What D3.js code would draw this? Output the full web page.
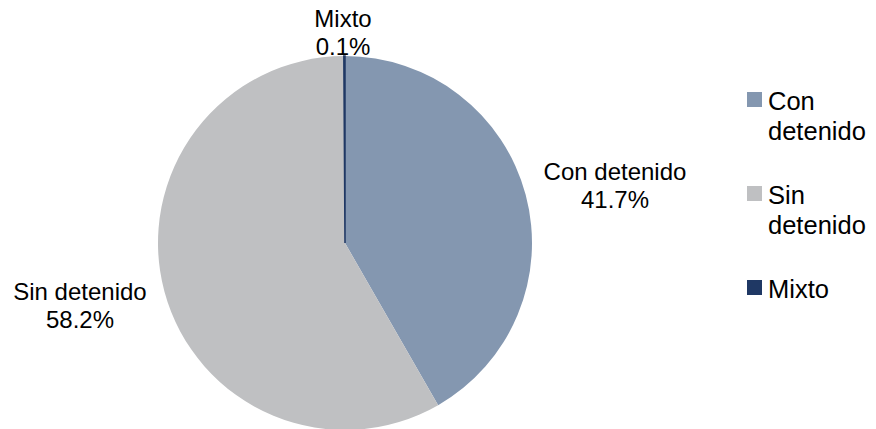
<!DOCTYPE html>
<html><head><meta charset="utf-8">
<script src="https://cdn.jsdelivr.net/npm/d3@7"></script>
<style>body{margin:0;background:#fff}svg{display:block}text{font-family:"Liberation Sans",Arial,sans-serif;fill:#000}</style>
</head><body>
<svg id="c" width="876" height="429"></svg>
<script>
const categories = ["Con detenido", "Sin detenido", "Mixto"];
const values = [41.7, 58.2, 0.1];
const legendLines = [["Con", "detenido"], ["Sin", "detenido"], ["Mixto"]];
const colors = ["#8497B0", "#BFC0C2", "#1F3864"];

const svg = d3.select("#c");
const cx = 345, cy = 243, r = 187;
const data = categories.map((c, i) => ({cat: c, v: values[i], i}));
const pie = d3.pie().sort(null).value(d => d.v);
const arcs = pie(data);
const arc = d3.arc().innerRadius(0).outerRadius(r);
const g = svg.append("g").attr("transform", `translate(${cx},${cy})`);
g.selectAll("path").data(arcs).join("path")
  .attr("d", arc).attr("fill", d => colors[d.data.i])
  .attr("stroke", d => d.data.i === 2 ? colors[2] : "none").attr("stroke-width", 1.5);

const labelPos = [[615, 180], [80, 300], [343, 27]];
const fs = 24;
arcs.forEach(a => {
  const [x, y] = labelPos[a.data.i];
  const t = svg.append("text").attr("text-anchor", "middle").attr("font-size", fs);
  t.append("tspan").attr("x", x).attr("y", y).text(a.data.cat);
  t.append("tspan").attr("x", x).attr("y", y + 28).text(d3.format(".1f")(a.data.v) + "%");
});

const legY = [92, 186, 280];
legendLines.forEach((lines, i) => {
  svg.append("rect").attr("x", 747).attr("y", legY[i]).attr("width", 15).attr("height", 15).attr("fill", colors[i]);
  const t = svg.append("text").attr("font-size", 25.5);
  lines.forEach((l, j) => t.append("tspan").attr("x", 768).attr("y", legY[i] + 18 + j * 30).text(l));
});
</script>
</body></html>
